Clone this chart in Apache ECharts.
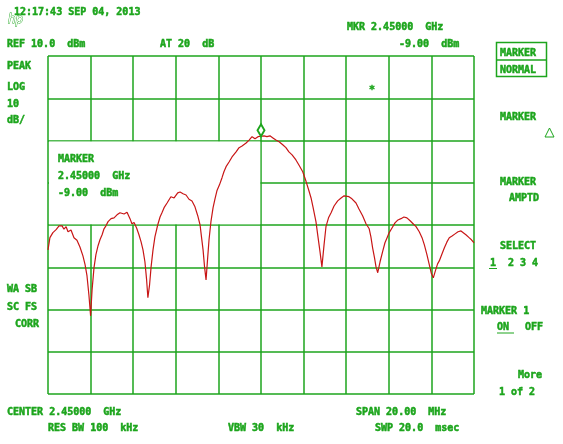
<!DOCTYPE html>
<html>
<head>
<meta charset="utf-8">
<script src="https://cdn.jsdelivr.net/npm/echarts@6/dist/echarts.min.js"></script>
<style>
html, body { margin: 0; padding: 0; background: #fff; }
#main { width: 563px; height: 444px; }
</style>
</head>
<body>
<div id="main"></div>
<script>
// trace, frequency in MHz, level in dBm
const freqMHz = [
  2440.00, 2440.09, 2440.23, 2440.38, 2440.52, 2440.66, 2440.75, 2440.85, 2440.94, 2441.08,
  2441.22, 2441.36, 2441.50, 2441.64, 2441.74, 2441.83, 2441.92, 2442.00, 2442.07, 2442.16,
  2442.25, 2442.35, 2442.44, 2442.54, 2442.63, 2442.72, 2442.82, 2442.96, 2443.10, 2443.24,
  2443.38, 2443.47, 2443.57, 2443.71, 2443.85, 2443.94, 2444.04, 2444.16, 2444.27, 2444.37,
  2444.46, 2444.55, 2444.63, 2444.69, 2444.77, 2444.84, 2444.93, 2445.02, 2445.15, 2445.26,
  2445.35, 2445.45, 2445.59, 2445.77, 2445.92, 2446.09, 2446.20, 2446.34, 2446.48, 2446.62,
  2446.76, 2446.90, 2447.03, 2447.14, 2447.21, 2447.28, 2447.35, 2447.42, 2447.49, 2447.56,
  2447.65, 2447.75, 2447.84, 2447.93, 2448.05, 2448.17, 2448.26, 2448.36, 2448.50, 2448.64,
  2448.83, 2448.97, 2449.11, 2449.30, 2449.44, 2449.58, 2449.72, 2449.86, 2450.00, 2450.14,
  2450.28, 2450.42, 2450.56, 2450.70, 2450.85, 2451.02, 2451.17, 2451.31, 2451.46, 2451.64,
  2451.78, 2451.96, 2452.11, 2452.25, 2452.35, 2452.44, 2452.58, 2452.68, 2452.77, 2452.86,
  2452.96, 2453.05, 2453.17, 2453.29, 2453.43, 2453.60, 2453.76, 2453.90, 2453.99, 2454.13,
  2454.27, 2454.46, 2454.60, 2454.77, 2454.93, 2455.08, 2455.16, 2455.24, 2455.33, 2455.40,
  2455.48, 2455.59, 2455.71, 2455.82, 2455.92, 2456.02, 2456.15, 2456.29, 2456.43, 2456.57,
  2456.71, 2456.85, 2457.00, 2457.14, 2457.28, 2457.43, 2457.56, 2457.67, 2457.79, 2457.90,
  2458.00, 2458.09, 2458.19, 2458.29, 2458.37, 2458.50, 2458.61, 2458.73, 2458.84, 2458.97,
  2459.11, 2459.25, 2459.39, 2459.48, 2459.62, 2459.77, 2459.88, 2460.00
];
const levelDbm = [
  -35.9, -33.0, -31.8, -31.1, -30.2, -30.2, -31.0, -30.4, -31.6, -31.2,
  -33.0, -33.6, -35.2, -37.3, -39.4, -42.0, -46.5, -51.5, -45.3, -40.1,
  -37.0, -34.9, -33.5, -32.3, -30.9, -30.2, -29.2, -28.5, -28.3, -27.6,
  -27.1, -26.8, -27.4, -27.0, -28.5, -29.7, -29.4, -30.7, -32.3, -34.0,
  -35.9, -38.7, -43.0, -47.2, -44.1, -39.9, -35.9, -32.8, -30.0, -28.1,
  -27.1, -25.9, -24.8, -23.3, -23.6, -22.4, -22.2, -22.6, -22.9, -23.9,
  -24.3, -25.7, -27.8, -30.0, -33.0, -35.9, -39.9, -43.0, -38.2, -33.5,
  -29.2, -25.9, -23.8, -21.9, -20.5, -18.8, -17.4, -16.2, -15.1, -13.9,
  -12.7, -11.7, -11.3, -10.6, -9.9, -9.1, -9.6, -9.1, -9.0, -8.9,
  -9.1, -8.9, -9.4, -9.9, -10.3, -11.0, -11.7, -12.7, -13.4, -14.6,
  -15.8, -17.4, -19.6, -21.9, -23.6, -25.7, -29.2, -33.0, -36.3, -39.9,
  -34.7, -30.4, -28.3, -27.1, -25.5, -24.3, -23.6, -23.1, -22.9, -23.3,
  -23.8, -24.8, -26.2, -27.8, -29.7, -30.9, -32.8, -35.4, -37.8, -39.9,
  -41.3, -38.7, -36.3, -34.2, -33.0, -31.8, -30.7, -29.5, -28.8, -28.5,
  -28.1, -28.3, -29.0, -29.7, -30.4, -31.6, -33.0, -34.7, -37.0, -39.4,
  -41.5, -42.5, -40.8, -39.2, -38.5, -36.8, -35.4, -34.0, -33.0, -32.6,
  -32.1, -31.6, -31.4, -31.6, -32.3, -33.0, -33.5, -34.2
];
const markerFreq = 2450.0;
const markerLevel = -9.0;

const startFreq = 2440, stopFreq = 2460, freqPerDiv = 2;
const refLevel = 10, dbPerDiv = 10, divisions = 8;

const GREEN = '#1da51d';
const RED = '#c81616';
const FONT = 'bold 10px "DejaVu Sans Mono", monospace';

// screen annotations: text, left x, middle y
const labels = [
  ['12:17:43 SEP 04, 2013', 14, 12],
  ['REF 10.0  dBm', 7, 44],
  ['AT 20  dB', 160, 44],
  ['MKR 2.45000  GHz', 347, 27],
  ['-9.00  dBm', 399, 44],
  ['PEAK', 7, 66],
  ['LOG', 7, 87],
  ['10', 7, 104],
  ['dB/', 7, 120],
  ['MARKER', 58, 159],
  ['2.45000  GHz', 58, 176],
  ['-9.00  dBm', 58, 193],
  ['WA SB', 7, 289],
  ['SC FS', 7, 307],
  ['CORR', 15, 324],
  ['CENTER 2.45000  GHz', 7, 412],
  ['SPAN 20.00  MHz', 356, 412],
  ['RES BW 100  kHz', 48, 428],
  ['VBW 30  kHz', 228, 428],
  ['SWP 20.0  msec', 375, 428],
  ['MARKER', 500, 53],
  ['NORMAL', 500, 70],
  ['MARKER', 500, 117],
  ['MARKER', 500, 182],
  ['AMPTD', 509, 198],
  ['SELECT', 500, 246],
  ['1', 490, 263],
  ['2 3 4', 508, 263],
  ['MARKER 1', 481, 311],
  ['ON', 497, 327],
  ['OFF', 525, 327],
  ['More', 518, 375],
  ['1 of 2', 499, 392]
];

const chart = echarts.init(document.getElementById('main'));

const graphics = [
  // blanked grid behind the marker readout
  { type: 'rect', z: 1, shape: { x: 49, y: 141.4, width: 211.2, height: 82.8 }, style: { fill: '#fff' } },
  // softkey box
  { type: 'rect', z: 5, shape: { x: 496.5, y: 42.5, width: 50, height: 34 }, style: { fill: 'none', stroke: GREEN, lineWidth: 1.5 } },
  { type: 'line', z: 5, shape: { x1: 496.5, y1: 60, x2: 546.5, y2: 60 }, style: { stroke: GREEN, lineWidth: 1.5 } },
  { type: 'polygon', z: 5, shape: { points: [[545, 137], [549.5, 128], [554, 137]] }, style: { fill: 'none', stroke: GREEN, lineWidth: 1 } },
  { type: 'line', z: 5, shape: { x1: 489, y1: 268.5, x2: 497, y2: 268.5 }, style: { stroke: GREEN, lineWidth: 1 } },
  { type: 'line', z: 5, shape: { x1: 497, y1: 333, x2: 514, y2: 333 }, style: { stroke: GREEN, lineWidth: 1 } },
  { type: 'text', z: 5, style: { text: 'hp', x: 8, y: 20, font: 'italic 12px "DejaVu Sans"', fill: '#fff', stroke: GREEN, lineWidth: 0.8, verticalAlign: 'middle', textVerticalAlign: 'middle' } },
  { type: 'text', z: 5, style: { text: '*', x: 372, y: 90, font: FONT, fill: GREEN, stroke: GREEN, lineWidth: 0.4, align: 'center', textAlign: 'center', verticalAlign: 'middle', textVerticalAlign: 'middle' } }
];
labels.forEach(function (l) {
  graphics.push({
    type: 'text', z: 5,
    style: { text: l[0], x: l[1], y: l[2], font: FONT, fill: GREEN, stroke: GREEN, lineWidth: 0.5, verticalAlign: 'middle', textVerticalAlign: 'middle' }
  });
});

const option = {
  backgroundColor: '#fff',
  animation: false,
  grid: { left: 48, top: 56, width: 426, height: 338, containLabel: false },
  xAxis: {
    type: 'value',
    min: startFreq,
    max: stopFreq,
    interval: freqPerDiv,
    axisLine: { show: false },
    axisTick: { show: false },
    axisLabel: { show: false },
    splitLine: { show: true, lineStyle: { color: GREEN, width: 1.5 } }
  },
  yAxis: {
    type: 'value',
    min: refLevel - dbPerDiv * divisions,
    max: refLevel,
    interval: dbPerDiv,
    axisLine: { show: false },
    axisTick: { show: false },
    axisLabel: { show: false },
    splitLine: { show: true, lineStyle: { color: GREEN, width: 1.5 } }
  },
  graphic: graphics,
  series: [
    {
      type: 'line',
      z: 3,
      data: freqMHz.map(function (f, i) { return [f, levelDbm[i]]; }),
      showSymbol: false,
      lineStyle: { color: RED, width: 1.2 },
      markPoint: {
        symbol: 'emptyDiamond',
        symbolSize: [7, 12],
        symbolOffset: [0, -6],
        itemStyle: { color: GREEN, borderColor: GREEN, borderWidth: 1 },
        label: { show: false },
        data: [{ coord: [markerFreq, markerLevel] }]
      }
    }
  ]
};

chart.setOption(option);
</script>
</body>
</html>
